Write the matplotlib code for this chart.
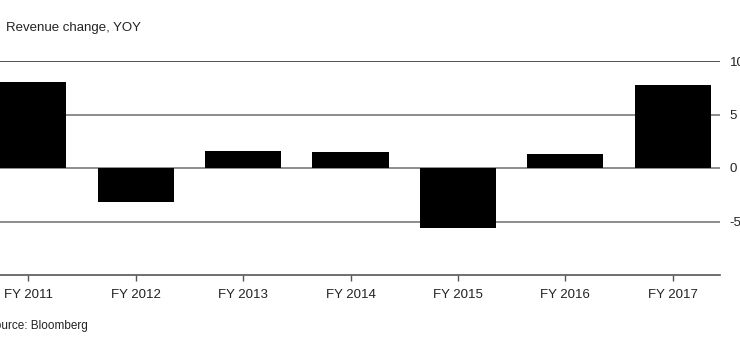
import matplotlib
matplotlib.use("Agg")
import matplotlib.pyplot as plt

categories = ["FY 2011", "FY 2012", "FY 2013", "FY 2014", "FY 2015", "FY 2016", "FY 2017"]
values = [8.0, -3.2, 1.6, 1.5, -5.6, 1.35, 7.8]
yticks = [-5, 0, 5, 10]
ytick_labels = ["-5", "0", "5", "10"]

plt.rcParams['font.family'] = ['Liberation Sans', 'DejaVu Sans']

W, H = 740, 350
fig = plt.figure(figsize=(W / 100, H / 100), dpi=100)
left_px, right_px, top_px, bot_px = -19, 720, 61, 275
ax = fig.add_axes([left_px / W, 1 - bot_px / H, (right_px - left_px) / W, (bot_px - top_px) / H])

x = list(range(len(categories)))
ax.bar(x, values, width=0.71, color="black", zorder=3)

ax.set_xlim(-0.44, len(categories) - 1 + 0.44)
ax.set_ylim(-10, 10)

for yv in [-5, 0, 5]:
    ax.axhline(yv, color="#8c8c8c", linewidth=1.4, zorder=1)
ax.axhline(10, color="#333333", linewidth=1.2, zorder=1)

for s in ["top", "left", "right"]:
    ax.spines[s].set_visible(False)
ax.spines["bottom"].set_color("#555555")
ax.spines["bottom"].set_linewidth(1.2)

ax.yaxis.tick_right()
ax.set_yticks(yticks)
ax.set_yticklabels(ytick_labels)
ax.tick_params(axis="y", length=0, pad=7, labelsize=9.5, labelcolor="#222222")

ax.set_xticks(x)
ax.set_xticklabels(categories)
ax.tick_params(axis="x", length=4, width=1, color="#555555", pad=6, labelsize=9.5, labelcolor="#222222")

fig.text(6 / W, 1 - 28 / H, "Revenue change, YOY", fontsize=9.5, color="#222222", va="center", ha="left")
fig.text(-13 / W, 1 - 326 / H, "Source: Bloomberg", fontsize=8.5, color="#222222", va="center", ha="left")

fig.savefig("out.png", dpi=100)
